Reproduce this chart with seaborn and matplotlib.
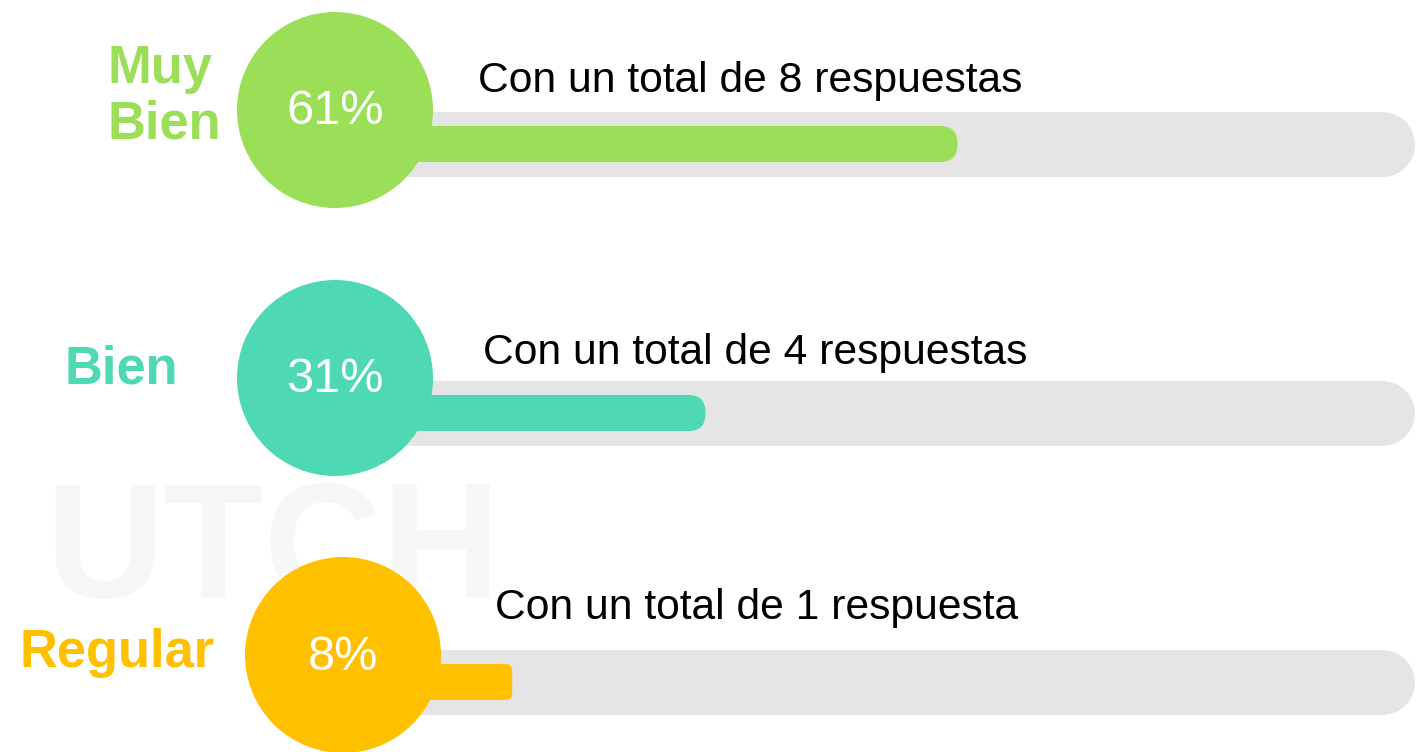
import numpy as np
import pandas as pd
import matplotlib
matplotlib.use('Agg')
import matplotlib.pyplot as plt
from matplotlib.patches import FancyBboxPatch
import seaborn as sns

# ====================== DATA ======================
categorias = ["Muy\nBien", "Bien", "Regular"]
porcentajes = [61, 31, 8]
respuestas = [8, 4, 1]
colores = ["#9BDE58", "#4ED8B3", "#FFC000"]

textos = [f"Con un total de {n} respuesta" + ("s" if n > 1 else "") for n in respuestas]

df = pd.DataFrame({"categoria": categorias, "pct": porcentajes})

# ====================== LAYOUT (pixels of the 1416x752 canvas) ======================
W, H = 1416, 752
PX_PER_X = 8.4      # pixels per percent point
X0_PX = 445         # pixel where 0% starts
PX_PER_ROW = 269    # pixels between rows
Y0_PX = 144         # pixel of first bar centre

def x_px(p):
    return (p - X0_PX) / PX_PER_X

def y_px(p):
    return (p - Y0_PX) / PX_PER_ROW

circle_px = [(335, 110), (335, 378), (343, 655)]
circle_d_pt = 196 * 0.72
texto_px = [(478, 81), (483, 353), (495, 608)]
label_px = [(108, 97), (65, 370), (20, 653)]
track_end_px = 1382
track_start_px = 336

sns.set_style("white")
plt.rcParams['font.family'] = ['Liberation Sans', 'DejaVu Sans']

fig = plt.figure(figsize=(W / 100, H / 100), dpi=100)
ax = fig.add_axes([0, 0, 1, 1])

# faint watermark
ax.text(x_px(45), y_px(597), "UTCH", fontsize=118, fontweight='bold', color='#f6f6f6',
        ha='left', va='baseline', zorder=0)

# grey tracks
for i in range(len(categorias)):
    ax.plot([x_px(track_start_px), x_px(track_end_px)], [i, i], color='#E5E5E5',
            lw=65 * 0.72, solid_capstyle='round', zorder=1)

# coloured bars
sns.barplot(data=df, x="pct", y="categoria", hue="categoria", palette=colores,
            orient='h', width=36 / PX_PER_ROW, legend=False, ax=ax, zorder=2)

aspect = PX_PER_X / PX_PER_ROW
start = x_px(344)
for patch, col in zip(list(ax.patches), colores):
    y, h, w = patch.get_y(), patch.get_height(), patch.get_width()
    patch.remove()
    r = 17 if w > 20 else 7
    rr = FancyBboxPatch((start, y), w - start, h,
                        boxstyle=f"round,pad=0,rounding_size={r / PX_PER_X}",
                        mutation_aspect=aspect, facecolor=col, edgecolor='none', zorder=2)
    ax.add_patch(rr)

# circles
cx = [x_px(p[0]) for p in circle_px]
cy = [y_px(p[1]) for p in circle_px]
sns.scatterplot(x=cx, y=cy, hue=categorias, palette=colores, s=circle_d_pt ** 2,
                linewidth=0, legend=False, ax=ax, zorder=4)

for i, p in enumerate(porcentajes):
    ax.text(cx[i], cy[i] + 2 / PX_PER_ROW, f"{p}%", color='white', fontsize=35,
            ha='center', va='center', zorder=5)
    ax.text(x_px(texto_px[i][0]), y_px(texto_px[i][1]), textos[i], color='black',
            fontsize=30.7, ha='left', va='center', zorder=5)
    ax.text(x_px(label_px[i][0]), y_px(label_px[i][1]), categorias[i], color=colores[i],
            fontsize=37.8, fontweight='bold', ha='left', va='center', linespacing=1.15, zorder=5)

ax.set_xlim(x_px(0), x_px(W))
ax.set_ylim(y_px(H), y_px(0))
ax.axis('off')

fig.savefig("out.png", dpi=100, facecolor='white')
